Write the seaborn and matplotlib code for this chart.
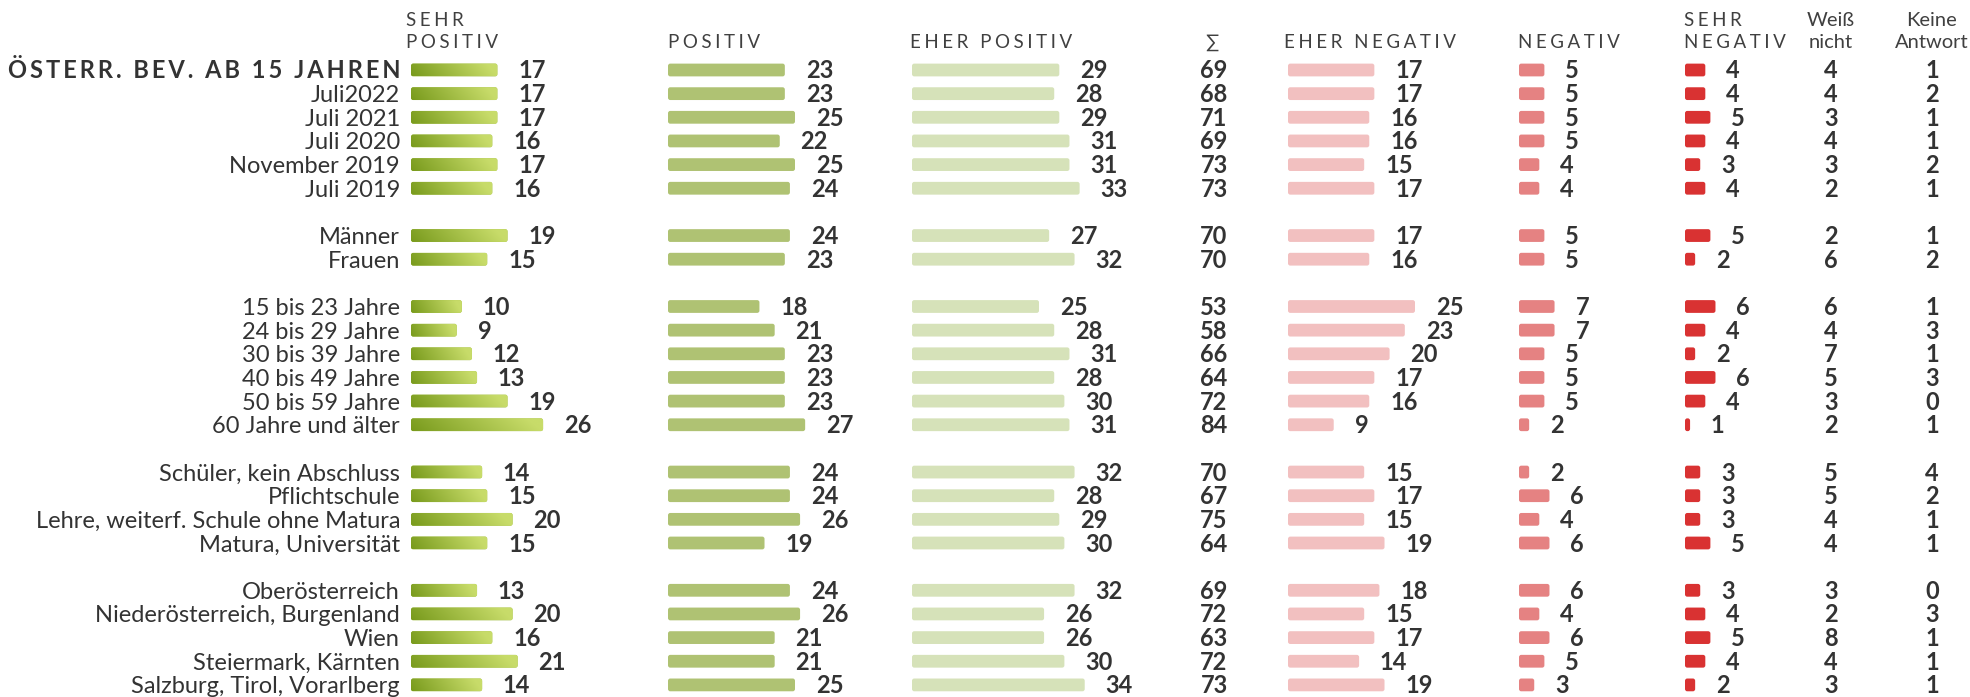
import numpy as np
import pandas as pd
import seaborn as sns
import matplotlib.pyplot as plt
from matplotlib.colors import LinearSegmentedColormap
from matplotlib.patches import FancyBboxPatch

sns.set_theme(style="white")
plt.rcParams['font.family'] = ['Lato', 'DejaVu Sans']

# --- data -------------------------------------------------------------
rows = ["ÖSTERR. BEV. AB 15 JAHREN", "Juli2022", "Juli 2021", "Juli 2020", "November 2019", "Juli 2019",
        "Männer", "Frauen",
        "15 bis 23 Jahre", "24 bis 29 Jahre", "30 bis 39 Jahre", "40 bis 49 Jahre", "50 bis 59 Jahre",
        "60 Jahre und älter",
        "Schüler, kein Abschluss", "Pflichtschule", "Lehre, weiterf. Schule ohne Matura", "Matura, Universität",
        "Oberösterreich", "Niederösterreich, Burgenland", "Wien", "Steiermark, Kärnten",
        "Salzburg, Tirol, Vorarlberg"]
group_sizes = [6, 2, 6, 4, 5]

sehr_positiv = [17, 17, 17, 16, 17, 16, 19, 15, 10, 9, 12, 13, 19, 26, 14, 15, 20, 15, 13, 20, 16, 21, 14]
positiv = [23, 23, 25, 22, 25, 24, 24, 23, 18, 21, 23, 23, 23, 27, 24, 24, 26, 19, 24, 26, 21, 21, 25]
eher_positiv = [29, 28, 29, 31, 31, 33, 27, 32, 25, 28, 31, 28, 30, 31, 32, 28, 29, 30, 32, 26, 26, 30, 34]
summe = [69, 68, 71, 69, 73, 73, 70, 70, 53, 58, 66, 64, 72, 84, 70, 67, 75, 64, 69, 72, 63, 72, 73]
eher_negativ = [17, 17, 16, 16, 15, 17, 17, 16, 25, 23, 20, 17, 16, 9, 15, 17, 15, 19, 18, 15, 17, 14, 19]
negativ = [5, 5, 5, 5, 4, 4, 5, 5, 7, 7, 5, 5, 5, 2, 2, 6, 4, 6, 6, 4, 6, 5, 3]
sehr_negativ = [4, 4, 5, 4, 3, 4, 5, 2, 6, 4, 2, 6, 4, 1, 3, 3, 3, 5, 3, 4, 5, 4, 2]
weiss_nicht = [4, 4, 3, 4, 3, 2, 2, 6, 6, 4, 7, 5, 3, 2, 5, 5, 4, 4, 3, 2, 8, 4, 3]
keine_antwort = [1, 2, 1, 1, 2, 1, 1, 2, 1, 3, 1, 3, 0, 1, 4, 2, 1, 1, 0, 3, 1, 1, 1]

# --- layout -----------------------------------------------------------
W, H = 1970, 697
Y0, DY = 70, 23.65          # pixel centre of first row, row pitch
PXU = 5.08                  # pixels per percent point
TXT = '#333333'
FS = 17
CAP = 8.5                   # half cap height in px, to centre text on a row

# row slots with an empty slot between groups
slots = []
s = 0
for g in group_sizes:
    slots += list(range(s, s + g))
    s += g + 1
slot_top = (0 - Y0) / DY
slot_bottom = (H - Y0) / DY

fig = plt.figure(figsize=(W / 100, H / 100), dpi=100)
ax_t = fig.add_axes([0, 0, 1, 1])
ax_t.set_xlim(0, W)
ax_t.set_ylim(H, 0)
ax_t.axis('off')


def ypx(slot):
    return Y0 + slot * DY


def spaced(t, sep='\u2009'):
    return sep.join(t)


def bar_column(x0, width_px, values, color, gradient=None):
    ax = fig.add_axes([x0 / W, 0, width_px / W, 1])
    df = pd.DataFrame({'slot': slots, 'value': values})
    sns.barplot(data=df, x='value', y='slot', orient='h', native_scale=True,
                color=color, saturation=1, width=0.54, linewidth=0, ax=ax)
    cmap = LinearSegmentedColormap.from_list('g', gradient) if gradient else None
    grad = np.linspace(0, 1, 200)[None, :] + np.linspace(0.12, 0, 20)[:, None]
    # swap the plain rectangles for slightly rounded ones
    for p in list(ax.patches):
        x, y, w, h = p.get_x(), p.get_y(), p.get_width(), p.get_height()
        rb = FancyBboxPatch((x, y), w, h, boxstyle="round,pad=0,rounding_size=0.45",
                            mutation_aspect=PXU / DY, fc=p.get_facecolor(), lw=0, zorder=2)
        ax.add_patch(rb)
        p.set_visible(False)
        if cmap is not None:
            im = ax.imshow(grad, extent=(x, x + w, y + h, y), cmap=cmap, aspect='auto',
                           interpolation='bicubic', vmin=0, vmax=1, zorder=3)
            im.set_clip_path(rb)
    for v, sl in zip(values, slots):
        ax.annotate(str(v), xy=(v, sl), xytext=(15, -CAP * 0.72), textcoords='offset points',
                    ha='left', va='baseline', fontsize=FS, fontweight='bold', color=TXT)
    ax.set_xlim(0, width_px / PXU)
    ax.set_ylim(slot_bottom, slot_top)
    ax.axis('off')
    return ax


bar_column(411, 150, sehr_positiv, '#9fbb40', gradient=['#789a1c', '#c8dc6a'])
bar_column(668, 200, positiv, '#afc273')
bar_column(912, 250, eher_positiv, '#d6e2b9')
bar_column(1288, 200, eher_negativ, '#f2c0c0')
bar_column(1519, 150, negativ, '#e58282')
bar_column(1685, 120, sehr_negativ, '#d93232')

# category labels
for i, (lab, sl) in enumerate(zip(rows, slots)):
    if i == 0:
        ax_t.text(400, ypx(sl) + CAP, spaced(lab), ha='right', va='baseline',
                  fontsize=FS, fontweight='bold', color=TXT)
    else:
        ax_t.text(400, ypx(sl) + CAP, lab, ha='right', va='baseline', fontsize=FS, color=TXT)

# plain number columns
for xc, vals in [(1214, summe), (1831, weiss_nicht), (1932, keine_antwort)]:
    for v, sl in zip(vals, slots):
        ax_t.text(xc, ypx(sl) + CAP, str(v), ha='center', va='baseline',
                  fontsize=FS, fontweight='bold', color=TXT)

# headers
HDR = '#404040'
L1, L2 = 26, 48
SEP = '\u2009\u200a'
hdr_kw = dict(ha='left', va='baseline', fontsize=13.5, color=HDR)
ax_t.text(406, L1, spaced('SEHR', SEP), **hdr_kw)
ax_t.text(406, L2, spaced('POSITIV', SEP), **hdr_kw)
ax_t.text(668, L2, spaced('POSITIV', SEP), **hdr_kw)
ax_t.text(910, L2, spaced('EHER POSITIV', SEP), **hdr_kw)
ax_t.text(1212, L2, '∑', ha='center', va='baseline', fontsize=14, color=HDR)
ax_t.text(1284, L2, spaced('EHER NEGATIV', SEP), **hdr_kw)
ax_t.text(1518, L2, spaced('NEGATIV', SEP), **hdr_kw)
ax_t.text(1684, L1, spaced('SEHR', SEP), **hdr_kw)
ax_t.text(1684, L2, spaced('NEGATIV', SEP), **hdr_kw)
for xc, a, b in [(1831, 'Weiß', 'nicht'), (1932, 'Keine', 'Antwort')]:
    ax_t.text(xc, L1, a, ha='center', va='baseline', fontsize=14.5, color=HDR)
    ax_t.text(xc, L2, b, ha='center', va='baseline', fontsize=14.5, color=HDR)

fig.savefig('out.png', dpi=100, facecolor='white')
